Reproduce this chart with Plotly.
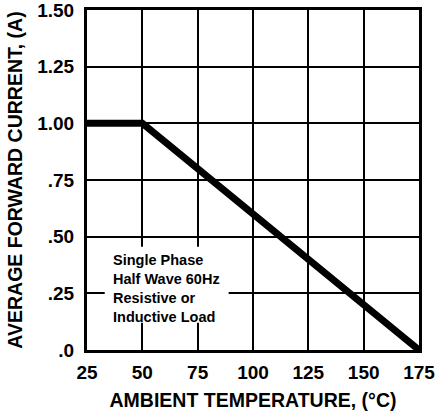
import plotly.graph_objects as go

temps = [25, 50, 175]
current = [1.0, 1.0, 0.0]
x_ticks = [25, 50, 75, 100, 125, 150, 175]
x_labels = ["25", "50", "75", "100", "125", "150", "175"]
y_ticks = [0, 0.25, 0.5, 0.75, 1.0, 1.25, 1.5]
y_labels = [".0", ".25", ".50", ".75", "1.00", "1.25", "1.50"]
note_lines = ["Single Phase", "Half Wave 60Hz", "Resistive or", "Inductive Load"]

font_family = "Liberation Sans, Arial, sans-serif"

fig = go.Figure()
fig.add_trace(go.Scatter(x=temps, y=current, mode="lines",
                         line=dict(color="black", width=7), showlegend=False,
                         hoverinfo="skip"))

fig.add_shape(type="rect", x0=33, x1=89, y0=0.12, y1=0.455, xref="x", yref="y",
              fillcolor="white", line=dict(width=0), layer="above")
fig.add_annotation(x=36, y=0.44, xref="x", yref="y", text="<br>".join(note_lines),
                   showarrow=False, xanchor="left", yanchor="top", align="left",
                   font=dict(family=font_family, size=14.5, color="black", weight="bold"))

fig.update_xaxes(range=[25, 175], tickvals=x_ticks, ticktext=x_labels,
                 showgrid=True, gridcolor="black", gridwidth=2,
                 showline=True, linecolor="black", linewidth=3, mirror=True,
                 zeroline=False, ticks="", automargin=False, ticklabelstandoff=3,
                 ticklabeloverflow="allow",
                 tickfont=dict(family=font_family, size=19, color="black", weight="bold"),
                 title=dict(text="AMBIENT TEMPERATURE, (°C)", standoff=12,
                            font=dict(family=font_family, size=19.5, color="black", weight="bold")))
fig.update_yaxes(range=[0, 1.5], tickvals=y_ticks, ticktext=y_labels,
                 showgrid=True, gridcolor="black", gridwidth=2,
                 showline=True, linecolor="black", linewidth=3, mirror=True,
                 zeroline=False, ticks="", automargin=False, ticklabelstandoff=6,
                 ticklabeloverflow="allow",
                 tickfont=dict(family=font_family, size=19, color="black", weight="bold"),
                 title=dict(text="AVERAGE FORWARD CURRENT, (A)", standoff=10,
                            font=dict(family=font_family, size=19.5, color="black", weight="bold")))

fig.update_layout(width=437, height=416, margin=dict(l=87, r=18, t=10, b=66),
                  plot_bgcolor="white", paper_bgcolor="white")

fig.write_html("out.html", config={"displayModeBar": False},
               post_script="document.body.style.margin='0';document.body.style.overflow='hidden';")
